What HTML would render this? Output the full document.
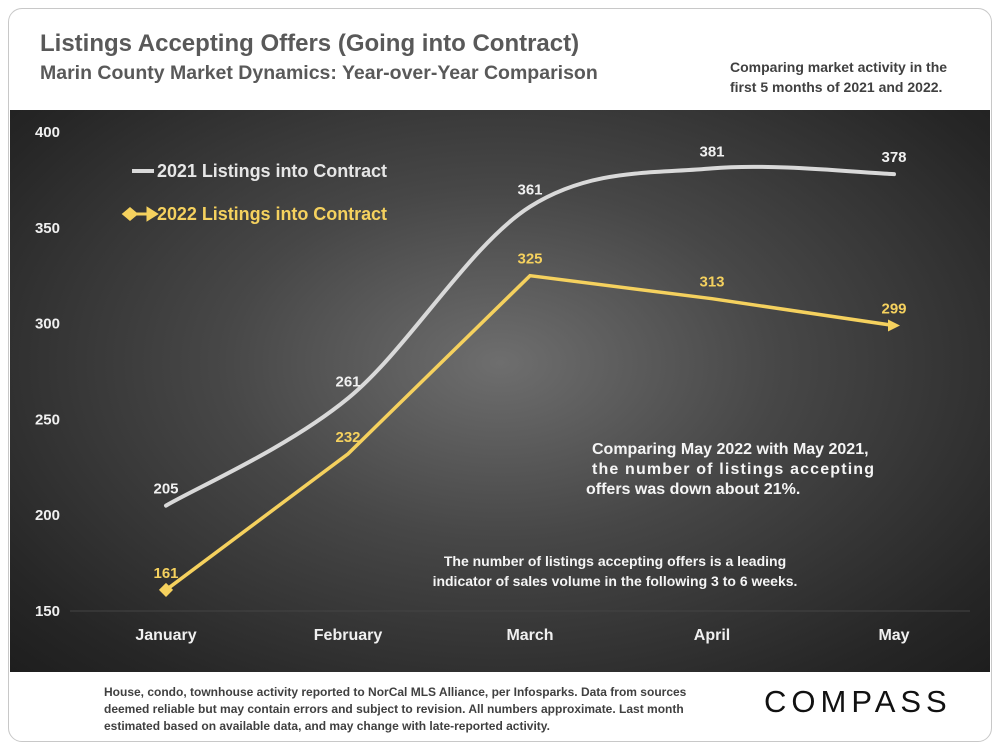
<!DOCTYPE html>
<html><head><meta charset="utf-8"><style>
body{margin:0;width:1000px;height:750px;background:#fff;font-family:"Liberation Sans",sans-serif;overflow:hidden;position:relative}
.card{position:absolute;left:8px;top:8px;width:982px;height:732px;border:1.5px solid #c8c8c8;border-radius:14px}
.t{position:absolute;color:#595959;font-weight:bold}
#panel{position:absolute;left:10px;top:110px;width:980px;height:562px;background:radial-gradient(ellipse at 50% 45%,#6e6e6e 0%,#474747 40%,#262626 85%,#1e1e1e 100%)}
</style></head><body>
<div class="card"></div>
<div class="t" style="left:40px;top:30px;font-size:24px">Listings Accepting Offers (Going into Contract)</div>
<div class="t" style="left:40px;top:62px;font-size:19.5px">Marin County Market Dynamics: Year-over-Year Comparison</div>
<div class="t" style="left:730px;top:57px;font-size:14px;line-height:20px;color:#404040">Comparing market activity in the<br>first 5 months of 2021 and 2022.</div>
<div id="panel">
<svg id="chart" width="980" height="562" xmlns="http://www.w3.org/2000/svg" font-family="Liberation Sans, sans-serif" font-weight="bold"></svg>
</div>
<div style="position:absolute;left:104px;top:684px;width:620px;font-size:12px;line-height:17px;color:#404040;font-weight:bold">House, condo, townhouse activity reported to NorCal MLS Alliance, per Infosparks. Data from sources deemed reliable but may contain errors and subject to revision. All numbers approximate. Last month estimated based on available data, and may change with late-reported activity.</div>
<div style="position:absolute;left:764px;top:684px;font-size:31px;letter-spacing:5px;color:#111;font-weight:normal">COMPASS</div>
<script>
const months=["January","February","March","April","May"];
const s2021=[205,261,361,381,378];
const s2022=[161,232,325,313,299];
const yTicks=[150,200,250,300,350,400];
const svg=document.getElementById('chart');
const NS="http://www.w3.org/2000/svg";
const X=i=>156+i*182, Y=v=>22+(400-v)*1.916;
function el(t,a,txt){const e=document.createElementNS(NS,t);for(const k in a)e.setAttribute(k,a[k]);if(txt!==undefined)e.textContent=txt;svg.appendChild(e);return e;}
yTicks.forEach(v=>{
 const tl=el('text',{x:50,y:Y(v)+5,'text-anchor':'end','font-size':15,fill:'#f0f0f0'},v);
 
 
});
const gl=el('line',{x1:60,x2:960,y1:Y(150),y2:Y(150),stroke:'#444','stroke-width':1});


months.forEach((m,i)=>{
 const t=el('text',{x:X(i),y:530,'text-anchor':'middle','font-size':16,fill:'#f0f0f0'},m);
 
 
});
const p=s2021.map((v,i)=>[X(i),Y(v)]);
let d=`M${p[0][0]},${p[0][1]}`;
for(let i=0;i<p.length-1;i++){
 const p0=p[i-1]||p[i],p1=p[i],p2=p[i+1],p3=p[i+2]||p2;
 const c1=[p1[0]+(p2[0]-p0[0])/6,p1[1]+(p2[1]-p0[1])/6],c2=[p2[0]-(p3[0]-p1[0])/6,p2[1]-(p3[1]-p1[1])/6];
 d+=` C${c1},${c2},${p2}`;
}
const l1=el('path',{d,fill:'none',stroke:'#d9d9d9','stroke-width':4,'stroke-linecap':'round'});


const l2=el('polyline',{points:s2022.map((v,i)=>X(i)+','+Y(v)).join(' '),fill:'none',stroke:'#f5d15e','stroke-width':3.5});


const mk=el('rect',{x:X(0)-5,y:Y(s2022[0])-5,width:10,height:10,fill:'#f5d15e',transform:`rotate(45 ${X(0)} ${Y(s2022[0])})`});


const ex=X(4),ey=Y(s2022[4]);
const ar=el('polygon',{points:`${ex+6},${ey} ${ex-6},${ey-6} ${ex-6},${ey+6}`,fill:'#f5d15e'});


s2021.forEach((v,i)=>{
 const t=el('text',{x:X(i),y:Y(v)-12,'text-anchor':'middle','font-size':15,fill:'#f0f0f0'},v);
 
 
});
s2022.forEach((v,i)=>{
 const t=el('text',{x:X(i),y:Y(v)-12,'text-anchor':'middle','font-size':15,fill:'#f5d15e'},v);
 
 
});
const lg1=el('line',{x1:122,x2:144,y1:61,y2:61,stroke:'#d9d9d9','stroke-width':4});


const lt1=el('text',{x:147,y:67,'font-size':18,fill:'#e6e6e6',textLength:230},'2021 Listings into Contract');


const lg2=el('path',{d:'M114,104 l6,-5 l6,5 l-6,5z M120,104 H138 M146,104 l-8,-5 v10z',stroke:'#f5d15e','stroke-width':3,fill:'#f5d15e'});


const lt2=el('text',{x:147,y:110,'font-size':18,fill:'#f5d15e',textLength:230},'2022 Listings into Contract');


[['Comparing May 2022 with May 2021,',344],['the number of listings accepting',364],['offers was down about 21%.',384]].forEach(([s,y],i)=>{
 const t=el('text',{x:i==2?576:582,y,'font-size':16,fill:'#f5f5f5'},s);
 if(i==1){t.setAttribute('textLength','282');}
 
 
});
[['The number of listings accepting offers is a leading',456],['indicator of sales volume in the following 3 to 6 weeks.',476]].forEach(([s,y])=>{
 const t=el('text',{x:605,y,'text-anchor':'middle','font-size':14,fill:'#f5f5f5'},s);
 
 
});
</script>
</body></html>
